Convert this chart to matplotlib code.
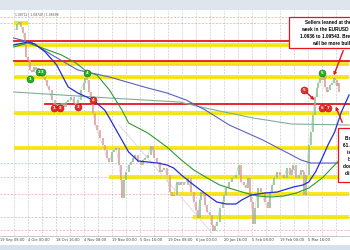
import matplotlib.pyplot as plt
from matplotlib.patches import Rectangle

# EURUSD 4h closes, x = bar number (about 2 bars per pixel of the screenshot)
bars = [4, 8, 12, 16, 20, 24, 26, 30, 34, 38,
        42, 46, 50, 54, 60, 66, 70, 74, 80, 86,
        90, 94, 100, 106, 110, 114, 120, 126, 130, 134,
        140, 146, 150, 154, 158, 162, 166, 170, 174, 180,
        186, 190, 194, 200, 206, 210, 214, 220, 224, 226,
        230, 234, 240, 246, 250, 254, 260, 266, 270, 274,
        280, 286, 290, 294, 300, 306, 310, 314, 320, 326,
        330, 334, 340, 346, 350, 356, 364, 370, 376, 380,
        384, 388, 392, 396, 400, 404, 410, 414, 416, 420,
        424, 430, 436, 440, 444, 450, 456, 464, 470, 474,
        480, 484, 490, 494, 496, 500, 504, 510, 516, 524,
        530, 536, 540, 544, 550, 556, 564, 570, 576, 580,
        584, 590, 596, 600, 604, 606, 610, 616, 620, 624,
        628, 630, 634, 636, 640, 644, 648, 650, 654, 656,
        660, 664, 668, 670, 674, 676, 680]
closes = [1.1185, 1.1215, 1.1225, 1.1200, 1.1170, 1.1110, 1.1050, 1.1035, 1.0985, 1.0975,
          1.1000, 1.0985, 1.0995, 1.0975, 1.0950, 1.0935, 1.0905, 1.0885, 1.0835, 1.0800,
          1.0815, 1.0785, 1.0820, 1.0800, 1.0825, 1.0835, 1.0850, 1.0820, 1.0810, 1.0835,
          1.0885, 1.0920, 1.0945, 1.0935, 1.0875, 1.0835, 1.0770, 1.0710, 1.0685, 1.0645,
          1.0610, 1.0585, 1.0545, 1.0525, 1.0575, 1.0585, 1.0595, 1.0510, 1.0435, 1.0345,
          1.0435, 1.0475, 1.0510, 1.0525, 1.0545, 1.0560, 1.0525, 1.0510, 1.0535, 1.0545,
          1.0560, 1.0605, 1.0585, 1.0545, 1.0525, 1.0475, 1.0485, 1.0495, 1.0460, 1.0375,
          1.0355, 1.0360, 1.0425, 1.0410, 1.0425, 1.0410, 1.0445, 1.0375, 1.0325, 1.0285,
          1.0245, 1.0335, 1.0375, 1.0365, 1.0310, 1.0275, 1.0260, 1.0210, 1.0180, 1.0205,
          1.0225, 1.0295, 1.0325, 1.0360, 1.0395, 1.0425, 1.0445, 1.0460, 1.0510, 1.0425,
          1.0410, 1.0395, 1.0445, 1.0360, 1.0325, 1.0215, 1.0295, 1.0395, 1.0375, 1.0325,
          1.0295, 1.0375, 1.0410, 1.0445, 1.0475, 1.0460, 1.0445, 1.0495, 1.0460, 1.0485,
          1.0510, 1.0445, 1.0460, 1.0485, 1.0475, 1.0360, 1.0460, 1.0610, 1.0675, 1.0760,
          1.0835, 1.0850, 1.0895, 1.0920, 1.0945, 1.0935, 1.0955, 1.0900, 1.0875, 1.0885,
          1.0910, 1.0920, 1.0945, 1.0935, 1.0905, 1.0920, 1.0875]

# moving averages
fast_bars = [0, 30, 44, 66, 90, 104, 114, 134, 166, 190,
             200, 220, 240, 260, 280, 300, 320, 334, 350, 376,
             404, 424, 444, 464, 476, 496, 524, 550, 584, 604,
             616, 630, 644, 656, 670, 684, 700]
fast_ma = [1.1110, 1.1125, 1.1115, 1.1075, 1.1010, 1.0945, 1.0900, 1.0870, 1.0835, 1.0785,
           1.0745, 1.0660, 1.0575, 1.0530, 1.0525, 1.0520, 1.0510, 1.0495, 1.0460, 1.0410,
           1.0360, 1.0325, 1.0315, 1.0315, 1.0335, 1.0360, 1.0370, 1.0375, 1.0400, 1.0410,
           1.0425, 1.0475, 1.0545, 1.0610, 1.0675, 1.0775, 1.0860]
mid_bars = [0, 30, 60, 100, 130, 154, 174, 200, 226, 240,
            280, 320, 350, 376, 404, 430, 456, 484, 510, 536,
            564, 590, 616, 644, 670, 700]
mid_ma = [1.1100, 1.1120, 1.1095, 1.1060, 1.1020, 1.0975, 1.0960, 1.0885, 1.0785, 1.0720,
          1.0670, 1.0600, 1.0535, 1.0485, 1.0445, 1.0410, 1.0390, 1.0370, 1.0355, 1.0350,
          1.0355, 1.0370, 1.0395, 1.0445, 1.0510, 1.0585]
slow_bars = [0, 40, 80, 134, 200, 280, 320, 360, 400, 450, 520, 560, 600, 620, 700]
slow_ma = [1.1145, 1.1120, 1.1060, 1.0985, 1.0950, 1.0895, 1.0870, 1.0835, 1.0785, 1.0710,
           1.0635, 1.0585, 1.0535, 1.0520, 1.0520]
long_bars = [0, 100, 200, 346, 400, 500, 580, 700]
long_ma = [1.0875, 1.0860, 1.0845, 1.0825, 1.0795, 1.0745, 1.0715, 1.0710]
trend_bars = [220, 414]
trend_line = [1.0710, 1.0170]

# levels
yellow_levels = [1.1220, 1.1110, 1.1015, 1.0950, 1.0770, 1.0595, 1.0450, 1.0365, 1.0250]
yellow_start = [0, 0, 0, 0, 0, 0, 200, 326, 374]
yellow_end = [30, 700, 700, 700, 700, 700, 700, 700, 700]
red_levels = [1.1130, 1.1030, 1.0815]
red_start = [0, 0, 66]
pink_levels = [1.1250, 1.1220, 1.0520, 1.0450, 1.0365, 1.0250, 1.0185]

# numbered swing markers
green_x = [34, 54, 60, 154, 644]
green_y = [1.0940, 1.0975, 1.0975, 1.0970, 1.0970]
green_lab = ["1", "2", "3", "4", "5"]
red_x = [84, 96, 134, 166, 606, 644, 656]
red_y = [1.0795, 1.0795, 1.0800, 1.0835, 1.0885, 1.0795, 1.0795]
red_lab = ["1", "2", "3", "4", "5", "6", "7"]

tick_bars = [-28.4 + 58.4 * i for i in range(12)]
tick_labels = ["19 Sep 08:00", "4 Oct 00:00", "18 Oct 16:00", "4 Nov 08:00", "19 Nov 00:00",
               "5 Dec 16:00", "19 Dec 08:00", "6 Jan 00:00", "20 Jan 16:00", "5 Feb 08:00",
               "19 Feb 00:00", "5 Mar 16:00"]
grid_bars = [1.2 + 29.2 * i for i in range(25)]

RED = "#e8141c"
YEL = "#f6ea1c"

fig = plt.figure(figsize=(3.5, 2.5), dpi=100)
fig.patch.set_facecolor("white")
ax = fig.add_axes([0, 14 / 250, 1, 226 / 250])
ax.set_xlim(0, 700)
ax.set_ylim(1.0155, 1.1285)
for s in ["top", "left", "right"]:
    ax.spines[s].set_visible(False)
ax.spines["bottom"].set_color("#b0b0b0")
ax.spines["bottom"].set_linewidth(0.5)
ax.set_yticks([])
ax.set_xticks(tick_bars)
ax.set_xticklabels(tick_labels, fontsize=2.6, color="#444444", ha="left")
ax.set_xticks(grid_bars, minor=True)
ax.tick_params(axis="x", which="both", length=0, pad=1.5)
ax.grid(axis="x", which="minor", color="#c4c4c4", ls=(0, (3, 2)), lw=0.45, zorder=0)
ax.set_axisbelow(True)

for p in pink_levels:
    ax.axhline(p, color="#eaa6a6", ls=(0, (3, 2)), lw=0.5, zorder=1)
for p, a, b in zip(yellow_levels, yellow_start, yellow_end):
    ax.fill_between([a, b], p - 0.001, p + 0.001, color=YEL, lw=0, zorder=1.5)
    ax.plot([a, b], [p, p], color="#f0c040", lw=0.4, ls=(0, (3, 2)), zorder=1.6)
for p, a in zip(red_levels, red_start):
    ax.plot([a, 700], [p, p], color=RED, lw=1.3, zorder=2)

ax.plot(trend_bars, trend_line, color="#d8d8d8", lw=0.6, zorder=2)

# candles: body from previous close to this close
cols = ["#8cc08c" if c >= o else "#e29a9a" for o, c in zip(closes[:-1], closes[1:])]
ax.vlines(bars[1:], closes[:-1], closes[1:], colors=cols, lw=1.1, zorder=3)
ax.plot(bars, closes, color="#bdbdbd", lw=0.3, zorder=2.9)

ax.plot(long_bars, long_ma, color="#7fae98", lw=0.8, zorder=4)
ax.plot(slow_bars, slow_ma, color="#5a62c0", lw=0.8, zorder=4)
ax.plot(mid_bars, mid_ma, color="#2f9a2f", lw=0.8, zorder=4)
ax.plot(fast_bars, fast_ma, color="#2330d0", lw=0.9, zorder=4)

ax.plot(green_x, green_y, "o", ms=5, mfc="#22b022", mec="#137013", mew=0.4, zorder=6)
for x, y, t in zip(green_x, green_y, green_lab):
    ax.text(x, y, t, fontsize=2.8, color="white", weight="bold", ha="center", va="center", zorder=7)
ax.plot(red_x, red_y, "o", ms=5, mfc="#ec2a2a", mec="#a01010", mew=0.4, zorder=6)
for x, y, t in zip(red_x, red_y, red_lab):
    ax.text(x, y, t, fontsize=2.8, color="white", weight="bold", ha="center", va="center", zorder=7)

arrow = dict(arrowstyle="-|>", color=RED, lw=1.0, mutation_scale=4)
ax.annotate("", xy=(632, 1.0825), xytext=(606, 1.0885), arrowprops=arrow, zorder=6)
ax.annotate("", xy=(666, 1.0945), xytext=(690, 1.1095), arrowprops=arrow, zorder=6)
ax.annotate("", xy=(670, 1.0815), xytext=(688, 1.0710), arrowprops=arrow, zorder=6)

ax.text(2, 1.1265, "1.08712 | 1.08740 | 1.08698", fontsize=2.2, color="#555555", va="center")

# header and footer strips of the screenshot
fig.patches.append(Rectangle((0, 240 / 250), 1, 10 / 250, transform=fig.transFigure,
                             fc="#dfe5ec", ec="none", zorder=0))
fig.patches.append(Rectangle((0, 0), 1, 5 / 250, transform=fig.transFigure,
                             fc="#d6e1ed", ec="none", zorder=0))

# comment boxes
fig.patches.append(Rectangle((289 / 350, 1 - 48 / 250), 70 / 350, 31 / 250, transform=fig.transFigure,
                             fc="white", ec=RED, lw=0.9, zorder=8))
fig.text(335 / 350, 1 - 33 / 250,
         "Sellers leaned at the highs\nweek in the EURUSD between\n1.0936 to 1.09543. Break above\nwill be more bullish",
         family="Liberation Sans", weight="bold", fontsize=3.4, ha="center", va="center",
         linespacing=1.45, zorder=9)
fig.patches.append(Rectangle((338 / 350, 1 - 182 / 250), 30 / 350, 54 / 250, transform=fig.transFigure,
                             fc="white", ec=RED, lw=0.9, zorder=8))
fig.text(370 / 350, 1 - 156 / 250,
         "Break back above the\n61.8% at 1.08590 would\nis a tilt more bullish\nbut failing to do so\ndownside risk would be\ndisappointing buyers.",
         family="Liberation Sans", weight="bold", fontsize=3.4, ha="center", va="center",
         linespacing=1.55, zorder=9)

fig.savefig("out.png", dpi=100)
